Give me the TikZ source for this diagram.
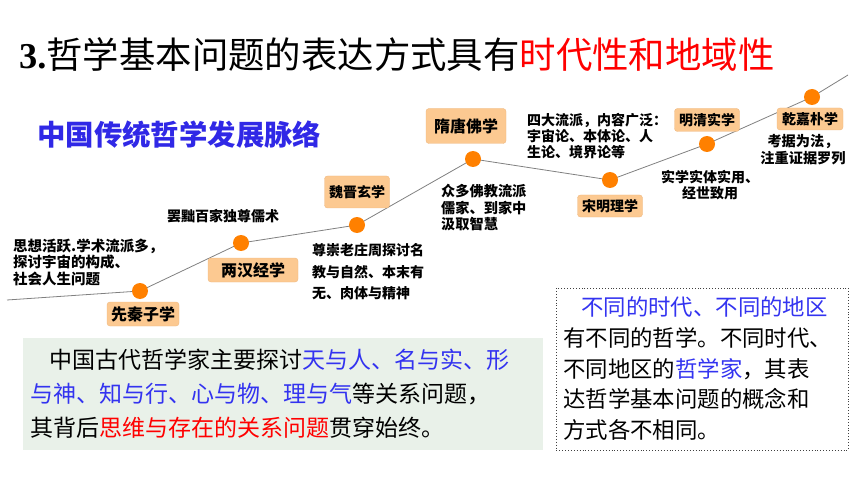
\documentclass[tikz,border=0pt]{standalone}
\usepackage{fontspec}
\setmainfont{Liberation Serif}
\newfontfamily\cjk{Noto Sans CJK SC}
\usepackage{tikz}
\definecolor{dotOrange}{RGB}{255,128,0}
\definecolor{eraFill}{RGB}{252,201,145}
\definecolor{eraLine}{RGB}{238,184,128}
\definecolor{trackGray}{RGB}{128,128,128}
\definecolor{boxGreen}{RGB}{233,241,233}
\definecolor{txtBlue}{RGB}{51,51,240}
\definecolor{titleBlue}{RGB}{48,40,230}
\definecolor{txtRed}{RGB}{255,0,0}

\begin{document}
\begin{tikzpicture}[
	x=1pt, y=-1pt,
  dot/.style = {fill=dotOrange,circle,inner sep=0pt,minimum size=16pt},
  era/.style = {draw=eraLine,fill=eraFill,rounded corners=3pt,inner sep=0pt,
    font=\cjk\bfseries\fontsize{14}{17}\selectfont},
  bigera/.style = {era,font=\cjk\bfseries\fontsize{16}{19}\selectfont},
  note/.style = {inner sep=0pt,font=\cjk\bfseries\fontsize{14}{21}\selectfont},
  body/.style = {inner sep=0pt,align=left}
  ]
	\useasboundingbox (0,0) rectangle (860,484);

	\node[anchor=west,inner sep=0pt,font=\fontsize{36.4}{40}\selectfont] (title) at (19,55)
		{\textbf{3.}\cjk 哲学基本问题的表达方式具有\textcolor{txtRed}{时代性和地域性}};
	\node[anchor=west,inner sep=0pt,text=titleBlue,font=\cjk\bfseries\fontsize{28.4}{30}\selectfont] (subtitle)
		at (37,135) {中国传统哲学发展脉络};

	\coordinate (@0) at (7,300);
	\coordinate (@1) at (140,291);
	\coordinate (@2) at (241,243);
	\coordinate (@3) at (357,225);
	\coordinate (@4) at (473,159);
	\coordinate (@5) at (610,180);
	\coordinate (@6) at (707,144);
	\coordinate (@7) at (812,97);
	\coordinate (@8) at (848,75);

	\draw[trackGray,line width=0.8pt] (@0) -- (@1) -- (@2) -- (@3) -- (@4) -- (@5) -- (@6) -- (@7) -- (@8);

	\node[dot] (d1) at (@1) {};
	\node[dot] (d2) at (@2) {};
	\node[dot] (d3) at (@3) {};
	\node[dot] (d4) at (@4) {};
	\node[dot] (d5) at (@5) {};
	\node[dot] (d6) at (@6) {};
	\node[dot] (d7) at (@7) {};

	\node[bigera,minimum width=72pt,minimum height=24pt] (xianqin) at (143,314) {先秦子学};
	\node[bigera,minimum width=90pt,minimum height=24pt] (lianghan) at (253,270) {两汉经学};
	\node[era,minimum width=65pt,minimum height=32pt] (weijin) at (357,192) {魏晋玄学};
	\node[bigera,minimum width=80pt,minimum height=35pt] (suitang) at (466,126) {隋唐佛学};
	\node[era,minimum width=65pt,minimum height=22pt] (songming) at (610,206) {宋明理学};
	\node[era,minimum width=65pt,minimum height=23pt] (mingqing) at (707,120) {明清实学};
	\node[era,minimum width=66pt,minimum height=22pt] (qianjia) at (810,119) {乾嘉朴学};

	\node[note,anchor=west,align=left,font=\cjk\bfseries\fontsize{14.5}{16.5}\selectfont] (n1) at (13,262)
		{思想活跃.学术流派多，\\探讨宇宙的构成、\\社会人生问题};
	\node[note] (n2) at (223,216) {罢黜百家独尊儒术};
	\node[note,anchor=west,align=left,font=\cjk\bfseries\fontsize{14}{21.5}\selectfont] (n3) at (312,272)
		{尊崇老庄周探讨名\\教与自然、本末有\\无、肉体与精神};
	\node[note,anchor=west,align=left,font=\cjk\bfseries\fontsize{14.2}{16.5}\selectfont] (n4) at (441,208)
		{众多佛教流派\\儒家、到家中\\汲取智慧};
	\node[note,anchor=west,align=left,font=\cjk\bfseries\fontsize{14}{16}\selectfont] (n5) at (527,136)
		{四大流派，内容广泛：\\宇宙论、本体论、人\\生论、境界论等};
	\node[note,align=center,font=\cjk\bfseries\fontsize{14}{16}\selectfont] (n6) at (710,185)
		{实学实体实用、\\经世致用};
	\node[note,align=center,font=\cjk\bfseries\fontsize{14.2}{17}\selectfont] (n7) at (803,150)
		{考据为法，\\注重证据罗列};

	% lower boxes
	\fill[boxGreen] (23,338) rectangle (543,450);
	\node[body,anchor=west,font=\cjk\fontsize{23}{34}\selectfont] (ancient) at (30,394)
		{\hspace*{19pt}中国古代哲学家主要探讨\textcolor{txtBlue}{天与人、名与实、形}\\
		\textcolor{txtBlue}{与神、知与行、心与物、理与气}等关系问题，\\
		其背后\textcolor{txtRed}{思维与存在的关系问题}贯穿始终。};

	\draw[dotted,line width=0.9pt,black!75] (556,288) rectangle (848,450);
	\node[body,anchor=west,font=\cjk\fontsize{22.4}{30.75}\selectfont] (differ) at (563,368.5)
		{\hspace*{18pt}\textcolor{txtBlue}{不同的时代、不同的地区}\\
		有不同的哲学。不同时代、\\
		不同地区的\textcolor{txtBlue}{哲学家}，其表\\
		达哲学基本问题的概念和\\
		方式各不相同。};

\end{tikzpicture}
\end{document}
